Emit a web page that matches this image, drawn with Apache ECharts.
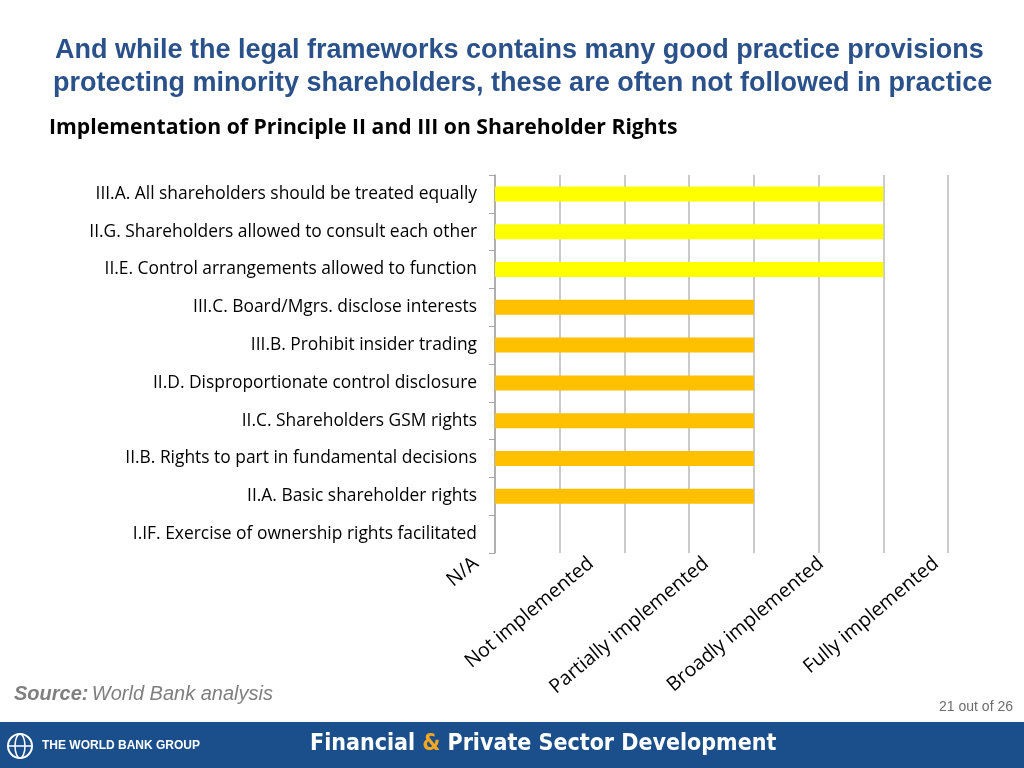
<!DOCTYPE html>
<html><head><meta charset="utf-8">
<script src="https://cdn.jsdelivr.net/npm/echarts@6/dist/echarts.min.js"></script>
<style>html,body{margin:0;padding:0;background:#fff}#c{width:1024px;height:768px}</style>
</head><body><div id="c"></div>
<script>
const categories = [
  "III.A. All shareholders should be treated equally",
  "II.G. Shareholders allowed to consult each other",
  "II.E. Control arrangements allowed to function",
  "III.C. Board/Mgrs. disclose interests",
  "III.B. Prohibit insider trading",
  "II.D. Disproportionate control disclosure",
  "II.C. Shareholders GSM rights",
  "II.B. Rights to part in fundamental decisions",
  "II.A. Basic shareholder rights",
  "I.IF. Exercise of ownership rights facilitated"
];
const values = [6, 6, 6, 4, 4, 4, 4, 4, 4, 0];
const barColors = ["#FFFF00","#FFFF00","#FFFF00","#FFC000","#FFC000","#FFC000","#FFC000","#FFC000","#FFC000","#FFC000"];
const levelLabels = ["N/A", "Not implemented", "Partially implemented", "Broadly implemented", "Fully implemented"];

const chart = echarts.init(document.getElementById('c'));
chart.setOption({
  animation: false,
  backgroundColor: '#ffffff',
  grid: [
    { left: 495, right: 76, top: 175, bottom: 215 },
    { left: 476, right: 88, top: 175, bottom: 215 }
  ],
  xAxis: [
    { type: 'value', gridIndex: 0, min: 0, max: 7, interval: 1, position: 'bottom',
      axisLine: { show: false }, axisTick: { show: false }, axisLabel: { show: false },
      splitLine: { show: true, lineStyle: { color: '#b8b8b8', width: 1.5 } } },
    { type: 'value', gridIndex: 1, min: 0, max: 4, interval: 1, position: 'bottom',
      axisLine: { show: false }, axisTick: { show: false }, splitLine: { show: false },
      axisLabel: { rotate: 40, margin: 8, fontFamily: 'Open Sans', fontSize: 19.6, color: '#000',
        formatter: v => levelLabels[v] || '' } }
  ],
  yAxis: [
    { type: 'category', gridIndex: 0, data: categories, inverse: true,
      axisLine: { show: true, lineStyle: { color: '#a6a6a6', width: 1.5 } },
      axisTick: { show: true, length: 6, lineStyle: { color: '#a6a6a6' } },
      axisLabel: { fontFamily: 'Open Sans', fontSize: 17.4, color: '#000', margin: 18 } },
    { type: 'value', gridIndex: 1, show: false }
  ],
  series: [{
    type: 'bar', xAxisIndex: 0, yAxisIndex: 0, barWidth: 15,
    data: values.map((v, i) => ({ value: v, itemStyle: { color: barColors[i] } }))
  }],
  graphic: [
    { type: 'text', left: 55, top: 37, style: { text: 'And while the legal frameworks contains many good practice provisions', fill: '#2A5189', font: 'bold 27px "Liberation Sans", Arial, sans-serif' } },
    { type: 'text', left: 53, top: 70, style: { text: 'protecting minority shareholders, these are often not followed in practice', fill: '#2A5189', font: 'bold 27px "Liberation Sans", Arial, sans-serif' } },
    { type: 'text', left: 49, top: 117, style: { text: 'Implementation of Principle II and III on Shareholder Rights', fill: '#000', font: 'bold 21.2px "Open Sans", sans-serif' } },
    { type: 'text', left: 14, top: 684, style: { rich: { b: { font: 'italic bold 20px "Liberation Sans", Arial', fill: '#7f7f7f' }, n: { font: 'italic 20px "Liberation Sans", Arial', fill: '#7f7f7f' } }, text: '{b|Source:} {n|World Bank analysis}' } },
    { type: 'text', right: 11, top: 700, style: { text: '21 out of 26', fill: '#6d6d6d', font: '14px "Liberation Sans", Arial' } },
    { type: 'rect', shape: { x: 0, y: 722, width: 1024, height: 46 }, style: { fill: '#1B4F8C' } },
    { type: 'circle', shape: { cx: 20, cy: 746, r: 12 }, style: { fill: 'none', stroke: '#fff', lineWidth: 2 } },
    { type: 'ellipse', shape: { cx: 20, cy: 746, rx: 5, ry: 12 }, style: { fill: 'none', stroke: '#fff', lineWidth: 1.5 } },
    { type: 'line', shape: { x1: 8, y1: 746, x2: 32, y2: 746 }, style: { stroke: '#fff', lineWidth: 1.5 } },
    { type: 'text', left: 42, top: 740, style: { text: 'THE WORLD BANK GROUP', fill: '#fff', font: 'bold 12px "Liberation Sans Narrow", "Liberation Sans", Arial' } },
    { type: 'text', left: 310, top: 733, style: { rich: { w: { font: 'bold 23px "Liberation Sans Narrow", "DejaVu Sans Condensed", sans-serif', fill: '#fff' }, o: { font: 'bold 23px "Liberation Sans Narrow", "DejaVu Sans Condensed", sans-serif', fill: '#F5A623' } }, text: '{w|Financial }{o|&}{w| Private Sector Development}' } }
  ]
});
</script></body></html>
